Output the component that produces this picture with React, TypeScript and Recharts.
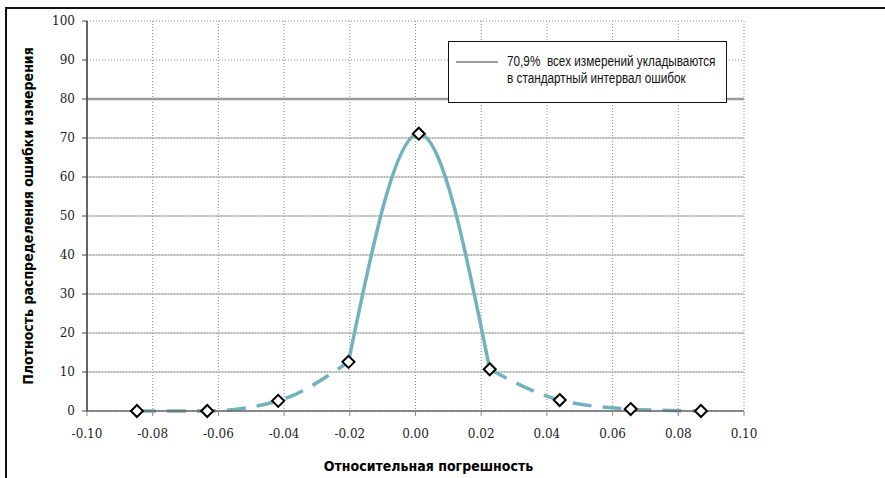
import React from 'react';
import { LineChart, Line, XAxis, YAxis, CartesianGrid, ReferenceLine } from 'recharts';

// relative error (x) and error density (y)
const errX = [-0.0848, -0.0634, -0.0418, -0.0204, 0.001, 0.0226, 0.0439, 0.0655, 0.0869];
const density = [0, 0, 2.6, 12.6, 71.1, 10.7, 2.8, 0.5, 0];

// the solid part of the curve goes from point 3 to point 5
const solidFrom = 3;
const solidTo = 5;

const xTicks = [-0.1, -0.08, -0.06, -0.04, -0.02, 0, 0.02, 0.04, 0.06, 0.08, 0.1];
const yTicks = [0, 10, 20, 30, 40, 50, 60, 70, 80, 90, 100];
const solidGridLevels = [10, 20, 30, 40, 50, 60, 70];
const standardLevel = 80;

const xTitle = 'Относительная погрешность';
const yTitle = 'Плотность распределения ошибки измерения';
const legendLines = ['70,9%  всех измерений укладываются', 'в стандартный интервал ошибок'];

const rows = errX.map((x, i) => ({
  x,
  density: density[i],
  left: i <= solidFrom ? density[i] : null,
  center: i >= solidFrom && i <= solidTo ? density[i] : null,
  right: i >= solidTo ? density[i] : null,
}));

const curveColor = '#72b1be';
const sans = '"Liberation Sans", Arial, sans-serif';
const condensed = '"DejaVu Sans Condensed", "Liberation Sans", sans-serif';
const serif = '"DejaVu Serif", serif';

function Diamond(props: any) {
  const { cx, cy } = props;
  if (cx == null || cy == null) return null;
  const r = 6;
  return (
    <polygon
      points={`${cx},${cy - r} ${cx + r},${cy} ${cx},${cy + r} ${cx - r},${cy}`}
      fill="#fff"
      stroke="#000"
      strokeWidth={2}
    />
  );
}

function XTick({ x, y, payload }: any) {
  return (
    <text x={x} y={y} dy="0.71em" textAnchor="middle" fontFamily={serif} fontSize={12} fill="#222">
      {Number(payload.value).toFixed(2)}
    </text>
  );
}

function YTick({ x, y, payload }: any) {
  return (
    <text x={x} y={y} dy="0.36em" textAnchor="end" fontFamily={serif} fontSize={12} fill="#222">
      {payload.value}
    </text>
  );
}

function LegendBox() {
  return (
    <div
      style={{
        position: 'absolute',
        left: 448,
        top: 41,
        width: 279,
        height: 62,
        border: '1px solid #111',
        background: '#fff',
        boxSizing: 'border-box',
        fontFamily: sans,
        fontSize: 14,
        color: '#111',
      }}
    >
      <div style={{ position: 'absolute', left: 7, top: 19, width: 42, height: 2, background: '#9a9a9a' }} />
      <div
        style={{
          position: 'absolute',
          left: 58,
          top: 11,
          lineHeight: '17px',
          whiteSpace: 'pre',
          transform: 'scaleX(0.84)',
          transformOrigin: 'left top',
        }}
      >
        {legendLines.map((t) => (
          <div key={t}>{t}</div>
        ))}
      </div>
    </div>
  );
}

export default function App() {
  return (
    <div style={{ position: 'absolute', left: 0, top: 0, width: 885, height: 478, overflow: 'hidden', background: '#fff' }}>
      {/* frame of the figure */}
      <div
        style={{
          position: 'absolute',
          left: 5,
          top: 7,
          width: 885,
          height: 480,
          borderTop: '2px solid #111',
          borderLeft: '2px solid #111',
        }}
      />
      <LineChart
        width={885}
        height={478}
        data={rows}
        margin={{ top: 21, right: 141, bottom: 0, left: 0 }}
        style={{ position: 'absolute', left: 0, top: 0 }}
      >
        <CartesianGrid stroke="#8a8a8a" strokeDasharray="1 2" />
        {solidGridLevels.map((v) => (
          <ReferenceLine key={v} y={v} stroke="#a6a6a6" strokeWidth={1.2} />
        ))}
        <ReferenceLine y={standardLevel} stroke="#9a9a9a" strokeWidth={2.5} />
        <XAxis
          type="number"
          dataKey="x"
          domain={[-0.1, 0.1]}
          ticks={xTicks}
          height={67}
          tickSize={5}
          tickMargin={13}
          axisLine={{ stroke: '#666', strokeWidth: 1.6 }}
          tickLine={{ stroke: '#888' }}
          tick={<XTick />}
          label={{
            value: xTitle,
            position: 'insideBottom',
            offset: 7,
            dx: 13,
            style: { fontFamily: condensed, fontWeight: 'bold', fontSize: 14, fill: '#000' },
          }}
        />
        <YAxis
          type="number"
          domain={[0, 100]}
          ticks={yTicks}
          width={87}
          tickSize={5}
          tickMargin={7}
          axisLine={{ stroke: '#444', strokeWidth: 1.6 }}
          tickLine={{ stroke: '#444' }}
          tick={<YTick />}
          label={{
            value: yTitle,
            angle: -90,
            position: 'insideLeft',
            offset: 28,
            textAnchor: 'middle',
            style: { fontFamily: condensed, fontWeight: 'bold', fontSize: 14, fill: '#000', textAnchor: 'middle' },
          }}
        />
        <Line type="monotone" dataKey="left" stroke={curveColor} strokeWidth={3.5} strokeDasharray="19 11" dot={false} isAnimationActive={false} />
        <Line type="monotone" dataKey="center" stroke={curveColor} strokeWidth={3.5} dot={false} isAnimationActive={false} />
        <Line type="monotone" dataKey="right" stroke={curveColor} strokeWidth={3.5} strokeDasharray="19 11" dot={false} isAnimationActive={false} />
        <Line dataKey="density" stroke="none" dot={<Diamond />} activeDot={false} isAnimationActive={false} />
      </LineChart>
      <LegendBox />
    </div>
  );
}
